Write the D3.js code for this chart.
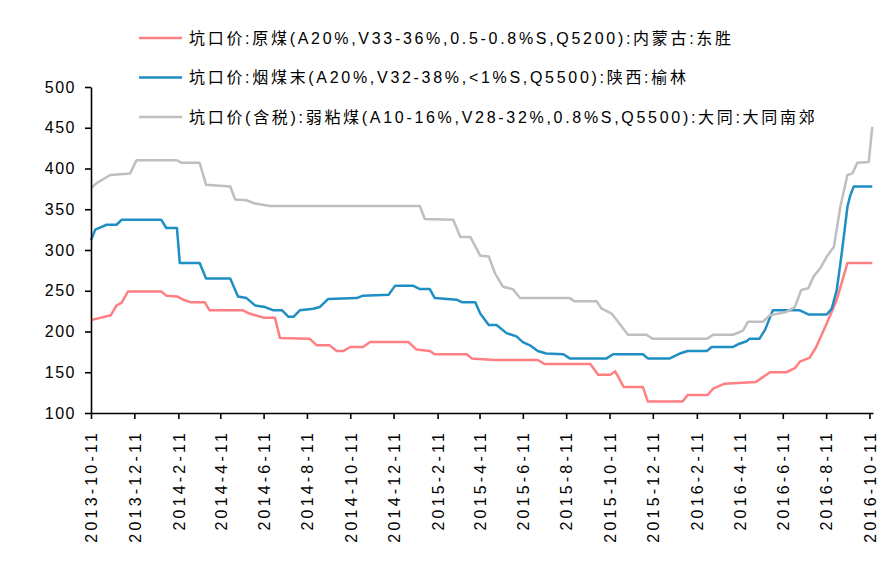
<!DOCTYPE html>
<html>
<head>
<meta charset="utf-8">
<script src="https://cdn.jsdelivr.net/npm/d3@7"></script>
<style>
  body { margin: 0; background: #fff; }
  text { font-family: "Liberation Sans", "Noto Sans CJK SC", sans-serif; fill: #000; }
</style>
</head>
<body>
<svg class="chart"></svg>
<script>

let seriesNames = [
  "坑口价:原煤(A20%,V33-36%,0.5-0.8%S,Q5200):内蒙古:东胜",
  "坑口价:烟煤末(A20%,V32-38%,<1%S,Q5500):陕西:榆林",
  "坑口价(含税):弱粘煤(A10-16%,V28-32%,0.8%S,Q5500):大同:大同南郊"
]
let seriesColors = ["#ff7f82", "#1f8fc3", "#bfbfbf"]

let redDates = ["2013-10-11","2013-11-08","2013-11-16","2013-11-23","2013-12-02","2014-01-18","2014-01-25","2014-02-09","2014-02-18","2014-02-28","2014-03-20","2014-03-27","2014-05-13","2014-05-22","2014-06-11","2014-06-27","2014-07-04","2014-08-15","2014-08-25","2014-09-12","2014-09-22","2014-10-01","2014-10-11","2014-10-29","2014-11-08","2015-01-01","2015-01-12","2015-01-31","2015-02-07","2015-03-24","2015-03-31","2015-05-01","2015-07-02","2015-07-12","2015-09-14","2015-09-25","2015-10-12","2015-10-19","2015-10-31","2015-11-27","2015-12-04","2016-01-22","2016-01-29","2016-02-26","2016-03-05","2016-03-21","2016-05-04","2016-05-24","2016-06-16","2016-06-28","2016-07-05","2016-07-19","2016-07-28","2016-08-12","2016-08-26","2016-09-10","2016-10-15"]
let redValues = [214,220,232,235,249,249,244,243,239,236,236,226,226,222,217,217,192,191,183,183,176,176,181,181,187,187,178,176,172,172,167,165,165,160,160,147,147,151,132,132,114,114,122,122,130,136,138,150,150,155,163,168,181,210,239,284,284]

let blueDates = ["2013-10-11","2013-10-17","2013-11-02","2013-11-16","2013-11-23","2014-01-18","2014-01-25","2014-02-09","2014-02-13","2014-03-13","2014-03-22","2014-04-25","2014-05-06","2014-05-18","2014-05-30","2014-06-13","2014-06-25","2014-07-07","2014-07-16","2014-07-23","2014-08-01","2014-08-20","2014-08-29","2014-09-10","2014-10-20","2014-10-29","2014-12-04","2014-12-13","2015-01-08","2015-01-17","2015-01-31","2015-02-07","2015-03-10","2015-03-17","2015-04-05","2015-04-12","2015-04-24","2015-05-05","2015-05-19","2015-06-02","2015-06-11","2015-06-21","2015-07-02","2015-07-14","2015-08-07","2015-08-16","2015-10-07","2015-10-16","2015-11-27","2015-12-04","2016-01-04","2016-01-18","2016-01-29","2016-02-25","2016-03-03","2016-04-02","2016-04-11","2016-04-21","2016-04-25","2016-05-09","2016-05-17","2016-05-28","2016-07-05","2016-07-17","2016-08-12","2016-08-19","2016-08-26","2016-09-02","2016-09-10","2016-09-14","2016-09-19","2016-10-15"]
let blueValues = [312,325,331,331,337,337,327,327,284,284,265,265,243,241,232,230,226,226,218,218,226,228,230,240,241,244,245,256,256,252,252,241,239,236,236,222,208,208,198,194,187,183,176,173,172,167,167,172,172,167,167,173,176,176,181,181,185,188,191,191,202,226,226,221,221,228,251,296,353,367,378,378]

let grayDates = ["2013-10-11","2013-10-19","2013-11-07","2013-12-05","2013-12-14","2014-02-09","2014-02-16","2014-03-13","2014-03-22","2014-04-25","2014-05-02","2014-05-18","2014-05-30","2014-06-20","2015-01-17","2015-01-24","2015-03-05","2015-03-15","2015-03-29","2015-04-12","2015-04-24","2015-05-03","2015-05-14","2015-05-28","2015-06-07","2015-08-16","2015-08-23","2015-09-23","2015-09-30","2015-10-14","2015-11-06","2015-12-02","2015-12-11","2016-02-25","2016-03-05","2016-04-02","2016-04-16","2016-04-23","2016-05-14","2016-05-24","2016-06-16","2016-06-28","2016-07-07","2016-07-17","2016-07-24","2016-08-03","2016-08-12","2016-08-22","2016-08-31","2016-09-10","2016-09-17","2016-09-24","2016-10-10","2016-10-15"]
let grayValues = [376,382,392,394,410,410,407,407,380,378,362,361,357,354,354,338,337,316,316,293,292,271,255,252,241,241,237,237,228,222,196,196,191,191,196,196,201,212,212,220,224,230,251,253,267,278,292,304,353,392,394,407,408,451]

let tickDates = ["2013-10-11","2013-12-11","2014-02-11","2014-04-11","2014-06-11","2014-08-11","2014-10-11","2014-12-11","2015-02-11","2015-04-11","2015-06-11","2015-08-11","2015-10-11","2015-12-11","2016-02-11","2016-04-11","2016-06-11","2016-08-11","2016-10-11"]
let yTicks = [100, 150, 200, 250, 300, 350, 400, 450, 500]

let parseDate = d3.timeParse("%Y-%m-%d")
let fmtDate = d3.timeFormat("%Y-%-m-%-d")

function toPoints(dates, values) {
  return dates.map(function(d, i) { return { date: parseDate(d), value: values[i] } })
}

let series = [
  toPoints(redDates, redValues),
  toPoints(blueDates, blueValues),
  toPoints(grayDates, grayValues)
]

let width = 893
let height = 561

let plot = { left: 91, right: 873, top: 87, bottom: 413 }

let x = d3.scaleTime()
  .domain([parseDate("2013-10-11"), parseDate("2016-10-16")])
  .range([plot.left, plot.right])

let y = d3.scaleLinear()
  .domain([100, 500])
  .range([plot.bottom, plot.top])

let svg = d3.select(".chart")
  .attr("width", width)
  .attr("height", height)

// lines
let line = d3.line()
  .x(function(d) { return x(d.date) })
  .y(function(d) { return y(d.value) })

svg.selectAll(".series")
  .data(series)
  .enter().append("path")
    .attr("class", "series")
    .attr("d", line)
    .attr("fill", "none")
    .attr("stroke", function(d, i) { return seriesColors[i] })
    .attr("stroke-width", 2.5)
    .attr("stroke-linejoin", "round")

// x axis
let xAxis = svg.append("g")
  .attr("transform", "translate(0," + plot.bottom + ")")
  .call(d3.axisBottom(x)
    .tickValues(tickDates.map(parseDate))
    .tickSize(6)
    .tickSizeOuter(0)
    .tickFormat(fmtDate))

xAxis.selectAll("text")
  .attr("transform", "rotate(-90)")
  .attr("text-anchor", "end")
  .attr("x", -17)
  .attr("y", 0)
  .attr("dy", "0.36em")
  .style("font-size", "16px")
  .style("letter-spacing", "3.2px")

// y axis
let yAxis = svg.append("g")
  .attr("transform", "translate(" + plot.left + ",0)")
  .call(d3.axisLeft(y)
    .tickValues(yTicks)
    .tickSize(6)
    .tickSizeOuter(0)
    .tickPadding(9))

yAxis.selectAll("text")
  .style("font-size", "16px")
  .style("letter-spacing", "1.5px")

svg.selectAll(".domain, .tick line")
  .attr("stroke", "#000")
  .attr("stroke-width", 1.6)

// legend
let legend = svg.selectAll(".legend")
  .data(seriesNames)
  .enter().append("g")
    .attr("class", "legend")
    .attr("transform", function(d, i) { return "translate(139," + (38 + i * 39.5) + ")" })

legend.append("line")
  .attr("x1", 0)
  .attr("x2", 43)
  .attr("stroke", function(d, i) { return seriesColors[i] })
  .attr("stroke-width", 2.5)

legend.append("text")
  .attr("x", 50)
  .attr("dy", "0.35em")
  .style("font-size", "16px")
  .style("letter-spacing", "2.7px")
  .text(function(d) { return d })

</script>
</body>
</html>
